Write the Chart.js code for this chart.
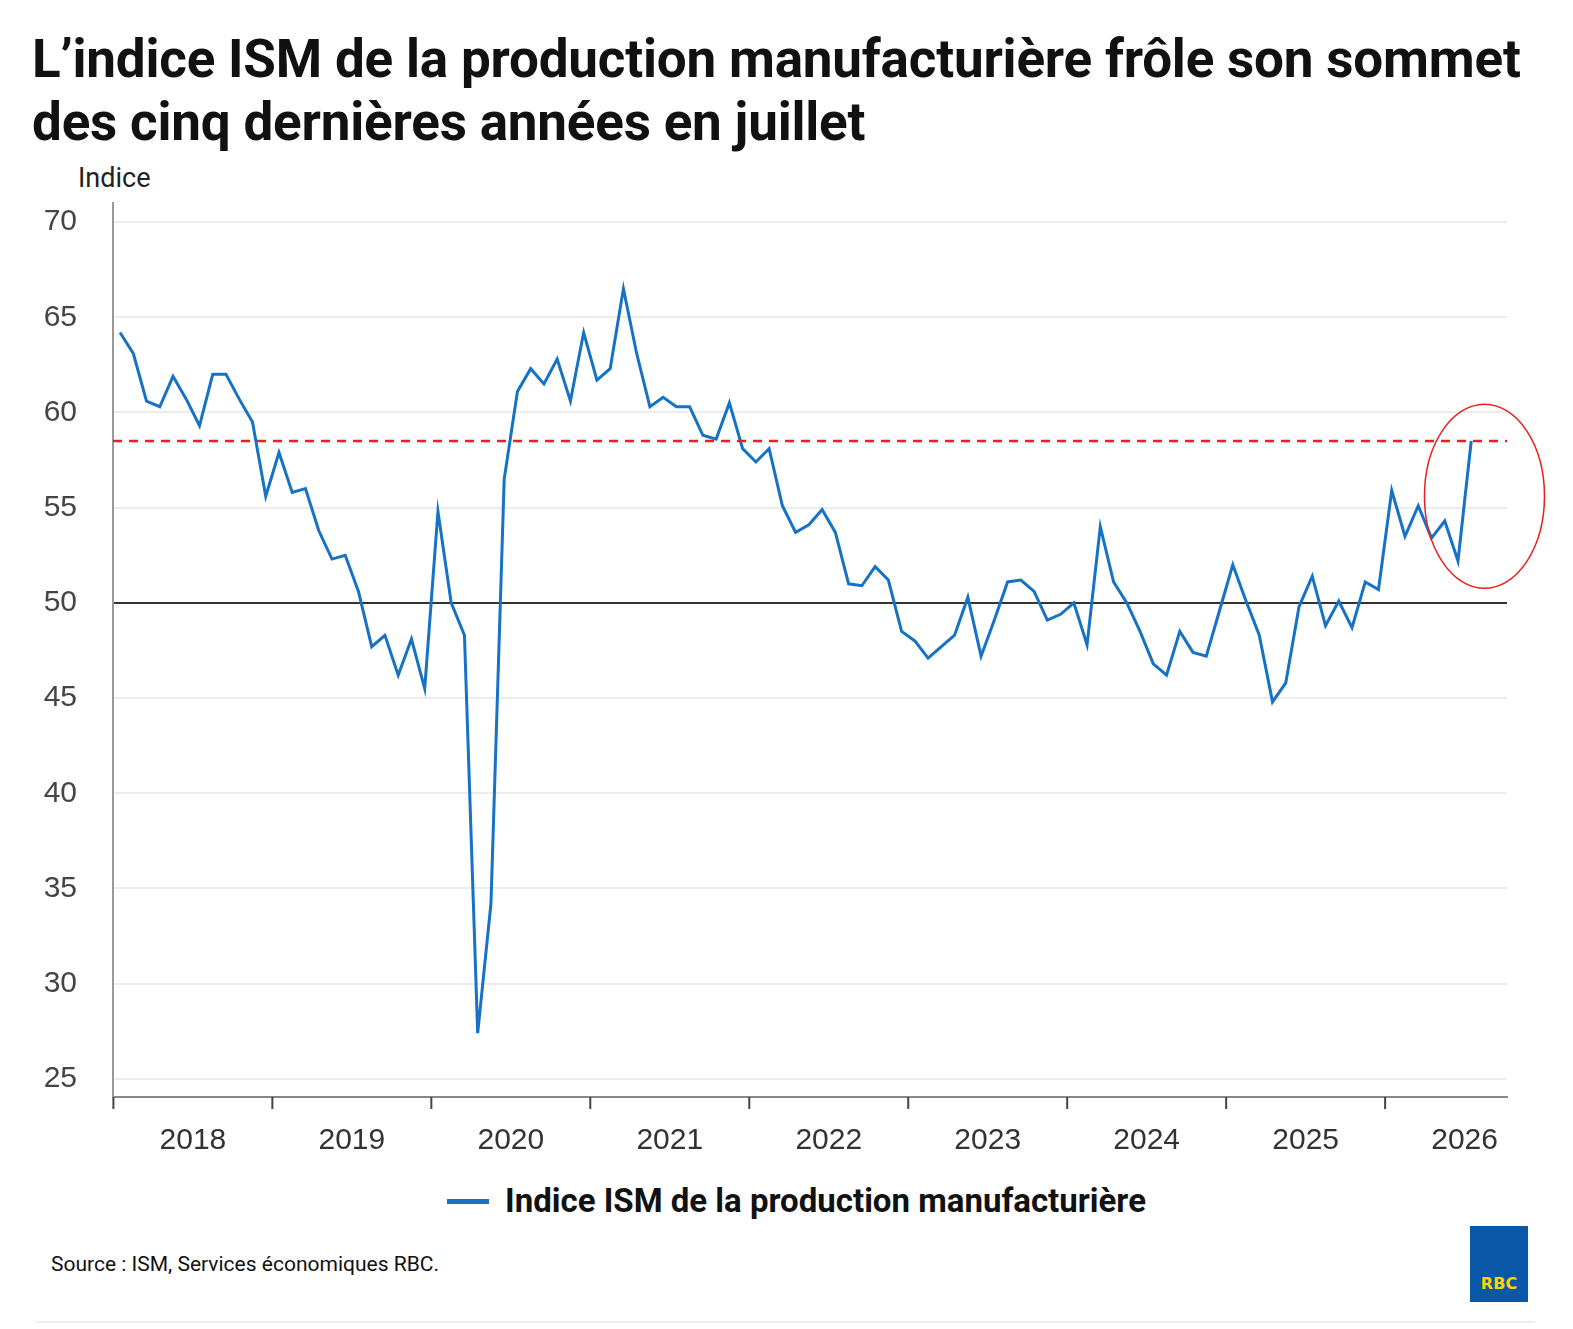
<!DOCTYPE html>
<html><head><meta charset="utf-8">
<script src="https://cdn.jsdelivr.net/npm/chart.js@4"></script>
<style>
body{margin:0;background:#fff;width:1573px;height:1329px;position:relative;overflow:hidden;font-family:Roboto,sans-serif}
h1{position:absolute;left:32px;top:28px;margin:0;font-size:53px;line-height:63px;font-weight:700;color:#111;letter-spacing:-0.2px;white-space:nowrap}
#unit{position:absolute;left:78px;top:162px;font-size:27px;color:#222}
#wrap{position:absolute;left:0;top:149px;width:1573px;height:1011px}
#legend{position:absolute;top:1181px;left:0;width:1573px;text-align:center;font-size:33px;font-weight:700;color:#111;padding-left:20px;box-sizing:border-box}
#legend span{display:inline-block;width:42px;height:5px;background:#1572c4;vertical-align:middle;margin-right:16px;margin-top:-4px}
#src{position:absolute;left:51px;top:1252px;font-size:21px;color:#111}
#logo{position:absolute;left:1470px;top:1226px;width:58px;height:76px;background:#0a57a8;color:#ffd200;font:bold 16px "DejaVu Sans";text-align:center;line-height:116px}
#rule{position:absolute;left:35px;top:1321px;width:1500px;height:2px;background:#eee}
</style></head><body>
<h1>L’indice ISM de la production manufacturière frôle son sommet<br>des cinq dernières années en juillet</h1>
<div id="unit">Indice</div>
<div id="wrap"><canvas id="c"></canvas></div>
<div id="legend"><span></span>Indice ISM de la production manufacturière</div>
<div id="src">Source : ISM, Services économiques RBC.</div>
<div id="logo">RBC</div>
<div id="rule"></div>
<script>
// mensuel, janv. 2018 à juil. 2026
const years = ["2018","2019","2020","2021","2022","2023","2024","2025","2026"];
const ismProd = [
  64.2,63.1,60.6,60.3,61.9,60.7,59.3,62.0,62.0,60.7,59.5,55.6,
  57.9,55.8,56.0,53.8,52.3,52.5,50.6,47.7,48.3,46.2,48.1,45.5,
  54.8,50.0,48.3,27.4,34.2,56.5,61.1,62.3,61.5,62.8,60.6,64.2,
  61.7,62.3,66.5,63.1,60.3,60.8,60.3,60.3,58.8,58.6,60.5,58.1,
  57.4,58.1,55.1,53.7,54.1,54.9,53.7,51.0,50.9,51.9,51.2,48.5,
  48.0,47.1,47.7,48.3,50.3,47.2,49.1,51.1,51.2,50.6,49.1,49.4,
  50.0,47.8,54.0,51.1,50.0,48.5,46.8,46.2,48.5,47.4,47.2,49.6,
  52.0,50.1,48.3,44.8,45.8,49.8,51.4,48.8,50.1,48.7,51.1,50.7,
  55.9,53.5,55.1,53.4,54.3,52.2,58.5
];
const refLevel = 58.5;
const yTicks = [25,30,35,40,45,50,55,60,65,70];

const pts = ismProd.map((v, i) => ({x: i, y: v}));

const extras = {
  id: "extras",
  afterDatasetsDraw(ch) {
    const {ctx, scales: {x, y}, chartArea: a} = ch;
    ctx.save();
    // ligne de référence
    ctx.strokeStyle = "#e8201e"; ctx.lineWidth = 2.5; ctx.setLineDash([9, 7]);
    ctx.beginPath(); ctx.moveTo(a.left, y.getPixelForValue(refLevel));
    ctx.lineTo(a.right, y.getPixelForValue(refLevel)); ctx.stroke();
    ctx.setLineDash([]);
    // ellipse autour du dernier point
    const last = ismProd.length - 1;
    ctx.strokeStyle = "#e8201e"; ctx.lineWidth = 1.5;
    ctx.beginPath();
    ctx.ellipse(x.getPixelForValue(last + 1), y.getPixelForValue(55.6), 60, 92, 0, 0, Math.PI * 2);
    ctx.stroke();
    // graduations des années
    ctx.strokeStyle = "#444"; ctx.lineWidth = 2;
    for (let k = 0; k < years.length; k++) {
      const px = x.getPixelForValue(k * 12 - 0.5);
      ctx.beginPath(); ctx.moveTo(px, a.bottom); ctx.lineTo(px, a.bottom + 12); ctx.stroke();
    }
    ctx.restore();
  }
};

new Chart(document.getElementById("c"), {
  type: "line",
  data: { datasets: [{ data: pts, borderColor: "#1572c4", borderWidth: 3, pointRadius: 0, tension: 0 }] },
  options: {
    responsive: true, maintainAspectRatio: false, animation: false,
    layout: { padding: { top: 31, right: 66, bottom: 0, left: 0 } },
    plugins: { legend: { display: false }, tooltip: { enabled: false } },
    scales: {
      x: {
        type: "linear", min: -0.53, max: 104.7,
        afterBuildTicks: s => { s.ticks = years.map((_, k) => ({ value: k * 12 + 5.5 })); },
        afterFit: s => { s.height = 63; },
        ticks: { autoSkip: false, maxRotation: 0, color: "#333", padding: 18,
                 font: { family: "Liberation Sans", size: 30 },
                 callback: (v) => years[Math.round((v - 5.5) / 12)] },
        grid: { display: false },
        border: { color: "#888", width: 2 }
      },
      y: {
        min: 24.05, max: 71,
        afterBuildTicks: s => { s.ticks = yTicks.map(v => ({ value: v })); },
        afterFit: s => { s.width = 113; },
        ticks: { color: "#444", padding: 36, font: { family: "Liberation Sans", size: 30 } },
        grid: { drawTicks: false, lineWidth: 2,
                color: c => c.tick && c.tick.value === 50 ? "#333" : "#ececec" },
        border: { color: "#999", width: 2 }
      }
    }
  },
  plugins: [extras]
});
</script>
</body></html>
